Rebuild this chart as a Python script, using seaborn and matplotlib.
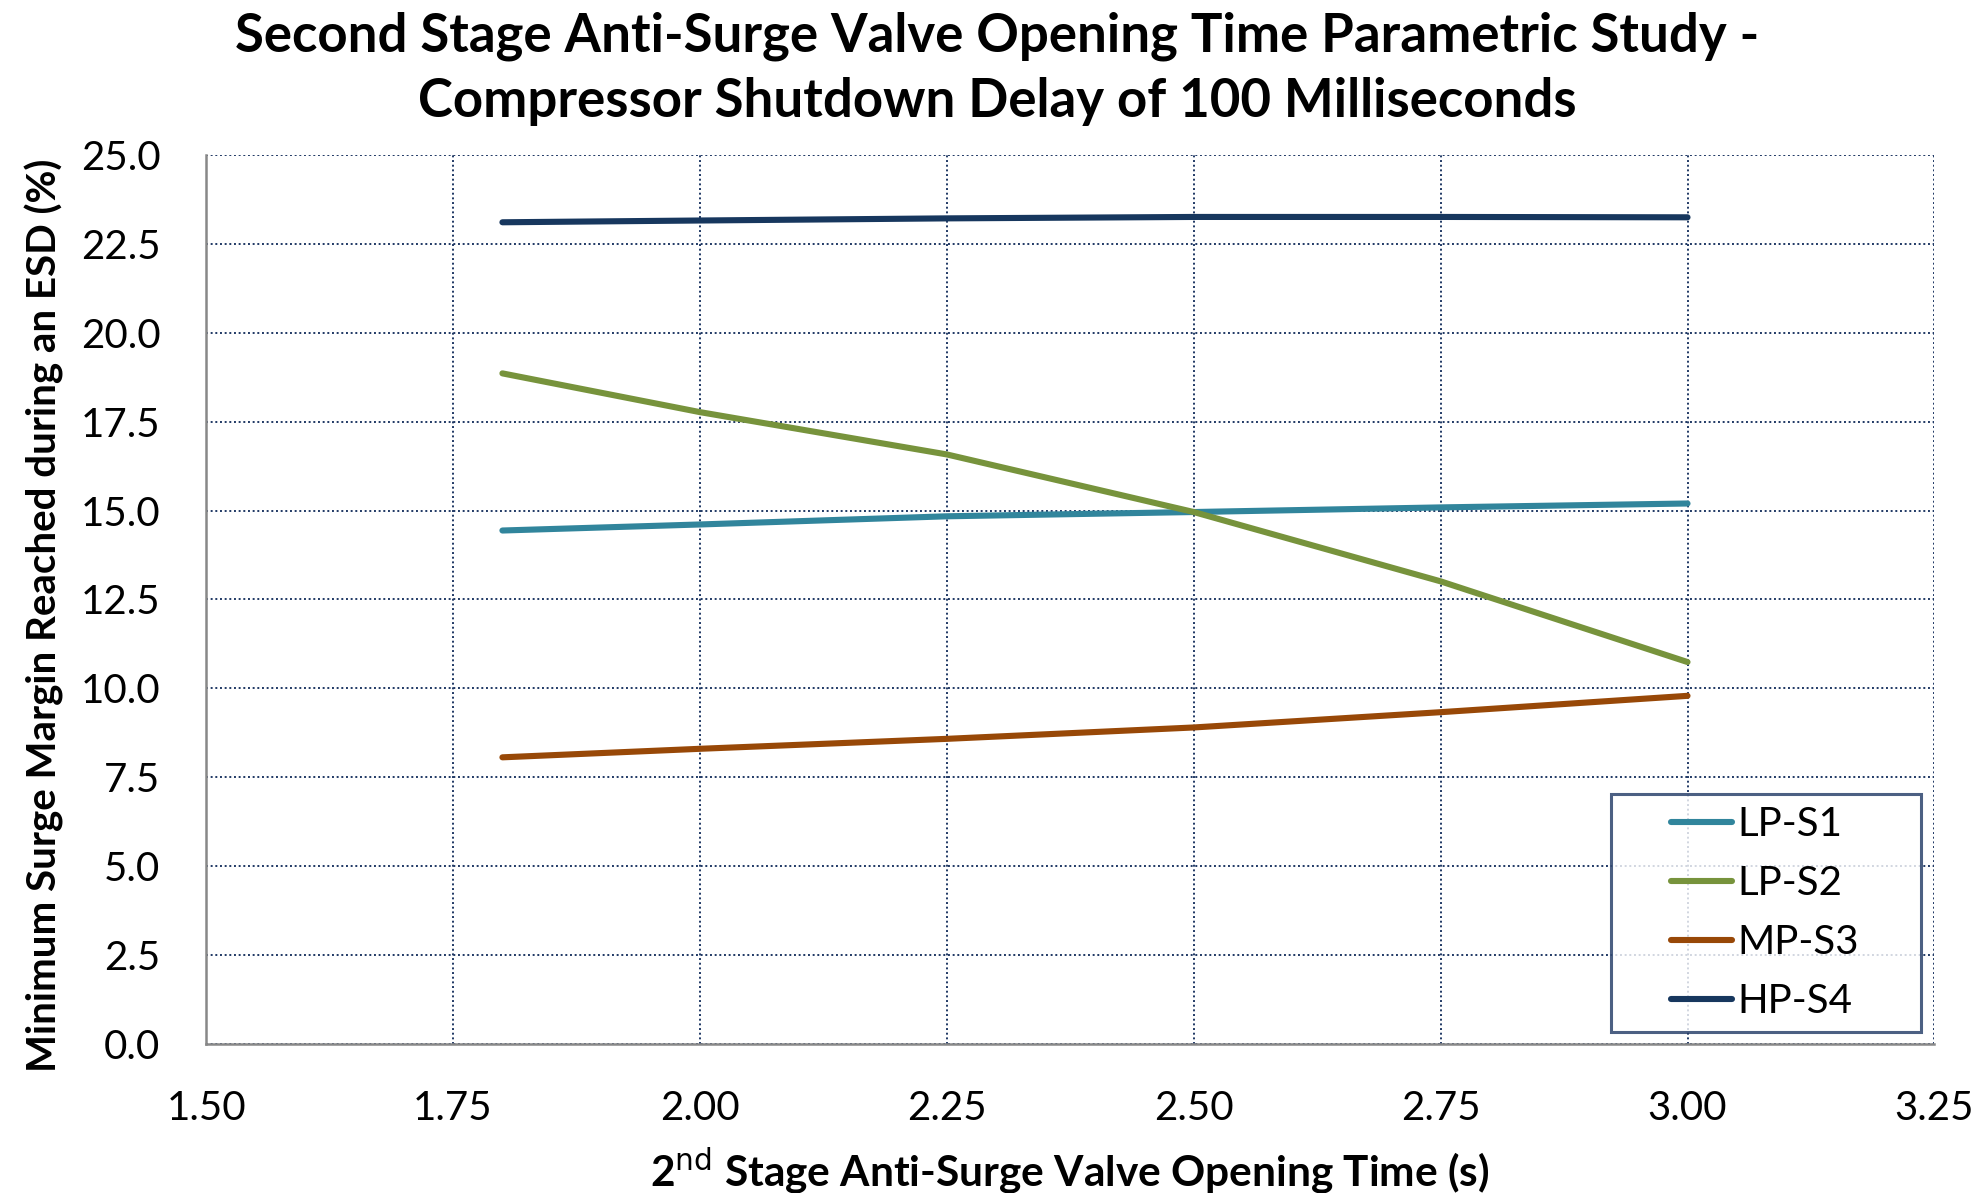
import matplotlib
matplotlib.use("Agg")
import matplotlib.pyplot as plt
from matplotlib.lines import Line2D
from matplotlib.legend_handler import HandlerLine2D
import seaborn as sns
import pandas as pd

# ---- data ----
x_time = [1.80, 2.00, 2.25, 2.50, 2.75, 3.00]
lp_s1 = [14.44, 14.61, 14.84, 14.96, 15.09, 15.20]
lp_s2 = [18.86, 17.77, 16.58, 14.96, 13.01, 10.74]
mp_s3 = [8.06, 8.30, 8.58, 8.90, 9.33, 9.79]
hp_s4 = [23.11, 23.16, 23.22, 23.26, 23.26, 23.25]
series_names = ["LP-S1", "LP-S2", "MP-S3", "HP-S4"]
series_colors = ["#31859C", "#77933C", "#984807", "#17375E"]
x_ticks = [1.50, 1.75, 2.00, 2.25, 2.50, 2.75, 3.00, 3.25]
y_ticks = [0.0, 2.5, 5.0, 7.5, 10.0, 12.5, 15.0, 17.5, 20.0, 22.5, 25.0]

rows = []
for name, vals in zip(series_names, [lp_s1, lp_s2, mp_s3, hp_s4]):
    for xv, yv in zip(x_time, vals):
        rows.append({"time": xv, "margin": yv, "series": name})
df = pd.DataFrame(rows)

sns.set_theme(style="white")
plt.rcParams["font.family"] = ["Lato", "DejaVu Sans"]
plt.rcParams["text.color"] = "black"
plt.rcParams["axes.labelcolor"] = "black"

fig = plt.figure(figsize=(19.82, 11.93), dpi=100)
ax = fig.add_axes([0.104, 0.125, 0.872, 0.745])

sns.lineplot(data=df, x="time", y="margin", hue="series",
             hue_order=series_names, palette=series_colors,
             linewidth=4.4, ax=ax, solid_capstyle="round", legend=True)

ax.set_xlim(1.5, 3.25)
ax.set_ylim(0, 25)
ax.set_xticks(x_ticks)
ax.set_yticks(y_ticks)
ax.set_xticklabels([f"{v:.2f}" for v in x_ticks])
ax.set_yticklabels([f"{v:.1f}" for v in y_ticks])
ax.tick_params(axis="both", labelsize=29, labelcolor="black", length=10,
               width=1.5, direction="out", color="#888888")
ax.tick_params(axis="x", pad=23)
ax.tick_params(axis="y", pad=23)

grid_color = "#1F3864"
ax.grid(True, which="major", color=grid_color, linestyle=(0, (1, 1.4)),
        linewidth=1.4)
ax.set_axisbelow(True)
for side in ["top", "right"]:
    ax.spines[side].set_visible(False)
for side in ["left", "bottom"]:
    ax.spines[side].set_color("#888888")
    ax.spines[side].set_linewidth(1.8)

ax.set_xlabel(r"2$^{\mathrm{nd}}$ Stage Anti-Surge Valve Opening Time (s)",
              fontsize=30.5, fontweight="bold", labelpad=14, color="black")
ax.set_ylabel("Minimum Surge Margin Reached during an ESD (%)",
              fontsize=29, fontweight="bold", color="black")
ax.yaxis.set_label_coords(-0.082, 0.482)

fig.suptitle("Second Stage Anti-Surge Valve Opening Time Parametric Study -\n"
             "Compressor Shutdown Delay of 100 Milliseconds",
             fontsize=38, fontweight="bold", y=0.99, linespacing=1.4,
             x=0.503, color="black")

leg_fs = 29
leg = ax.legend(loc="lower left", fontsize=leg_fs, frameon=True,
                fancybox=False, mode="expand",
                bbox_to_anchor=(0.813, 0.0128, 0.179, 0.26),
                handlelength=2.7, borderpad=0.3, labelspacing=0.55,
                borderaxespad=0.0, handletextpad=0.12,
                handler_map={Line2D: HandlerLine2D(xpad=1.18)})
leg.get_frame().set_edgecolor("#1F3864")
leg.get_frame().set_linewidth(2.2)
for text in leg.get_texts():
    text.set_color("black")
for line in leg.get_lines():
    line.set_linewidth(4.4)
    line.set_solid_capstyle("round")

fig.savefig("out.png", dpi=100, facecolor="white")
